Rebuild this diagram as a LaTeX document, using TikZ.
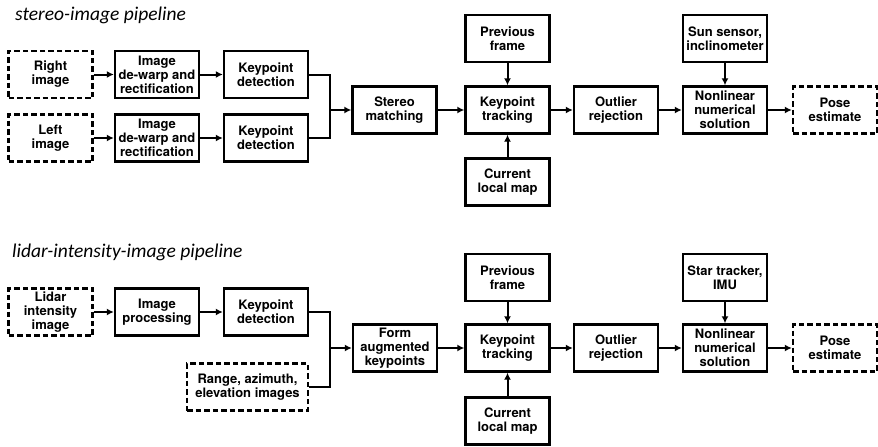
\documentclass[tikz,border=0pt]{standalone}
\usepackage{fontspec}
\setmainfont{TeX Gyre Heros}
\newfontfamily\headfont{Carlito}
\usetikzlibrary{arrows.meta}

\begin{document}
\begin{tikzpicture}[
  x=1pt, y=-1pt,
  every node/.style={font=\fontsize{13}{14}\selectfont\bfseries},
  block/.style={draw, line width=2.4pt, align=center, minimum width=84pt, minimum height=47pt, inner sep=1pt},
  io/.style={block, dash pattern=on 5.5pt off 3pt},
  head/.style={font=\fontsize{19.5}{22}\selectfont\headfont\itshape, anchor=base west, inner sep=0pt},
  flow/.style={line width=2pt, -{Latex[length=7pt,width=7pt]}},
  link/.style={line width=2pt}
]
  \useasboundingbox (0,0) rectangle (878,447);

  % stereo pipeline
  \node[head] (head1) at (15,20) {stereo-image pipeline};
  \node[io] (right) at (50.5,74.5) {Right\\image};
  \node[block] (dewarpR) at (157,74.5) {Image\\de-warp and\\rectification};
  \node[block] (detR) at (266,74.5) {Keypoint\\detection};
  \node[io] (left) at (50.5,138) {Left\\image};
  \node[block] (dewarpL) at (157,138) {Image\\de-warp and\\rectification};
  \node[block] (detL) at (266,138) {Keypoint\\detection};
  \coordinate (joinS) at (330,110);
  \node[block] (stereo) at (394.5,110) {Stereo\\matching};
  \node[block] (prevS) at (507.5,38.5) {Previous\\frame};
  \node[block] (trackS) at (507.5,110) {Keypoint\\tracking};
  \node[block] (mapS) at (507.5,182) {Current\\local map};
  \node[block] (outlS) at (616,110) {Outlier\\rejection};
  \node[block] (sun) at (725,38.5) {Sun sensor,\\inclinometer};
  \node[block] (solveS) at (725,110) {Nonlinear\\numerical\\solution};
  \node[io] (poseS) at (835,110) {Pose\\estimate};

  \draw[flow] (right) -- (dewarpR);
  \draw[flow] (dewarpR) -- (detR);
  \draw[flow] (left) -- (dewarpL);
  \draw[flow] (dewarpL) -- (detL);
  \draw[link] (detR.east) -| (joinS) |- (detL.east);
  \draw[flow] (joinS) -- (stereo);
  \draw[flow] (stereo) -- (trackS);
  \draw[flow] (prevS) -- (trackS);
  \draw[flow] (mapS) -- (trackS);
  \draw[flow] (trackS) -- (outlS);
  \draw[flow] (outlS) -- (solveS);
  \draw[flow] (sun) -- (solveS);
  \draw[flow] (solveS) -- (poseS);

  % lidar pipeline
  \node[head] (head2) at (12,257) {lidar-intensity-image pipeline};
  \node[io] (lidar) at (50.5,312) {Lidar\\intensity\\image};
  \node[block] (proc) at (157,312) {Image\\processing};
  \node[block] (detI) at (266,312) {Keypoint\\detection};
  \node[io, minimum width=121pt] (range) at (247.5,387) {Range, azimuth,\\elevation images};
  \coordinate (joinL) at (330,348);
  \node[block] (augment) at (395,348) {Form\\augmented\\keypoints};
  \node[block] (prevL) at (507.5,277.5) {Previous\\frame};
  \node[block] (trackL) at (507.5,348) {Keypoint\\tracking};
  \node[block] (mapL) at (507.5,421) {Current\\local map};
  \node[block] (outlL) at (616,348) {Outlier\\rejection};
  \node[block] (star) at (725,277.5) {Star tracker,\\IMU};
  \node[block] (solveL) at (725,348) {Nonlinear\\numerical\\solution};
  \node[io] (poseL) at (835,348) {Pose\\estimate};

  \draw[flow] (lidar) -- (proc);
  \draw[flow] (proc) -- (detI);
  \draw[link] (detI.east) -| (joinL) |- (range.east);
  \draw[flow] (joinL) -- (augment);
  \draw[flow] (augment) -- (trackL);
  \draw[flow] (prevL) -- (trackL);
  \draw[flow] (mapL) -- (trackL);
  \draw[flow] (trackL) -- (outlL);
  \draw[flow] (outlL) -- (solveL);
  \draw[flow] (star) -- (solveL);
  \draw[flow] (solveL) -- (poseL);
\end{tikzpicture}
\end{document}
